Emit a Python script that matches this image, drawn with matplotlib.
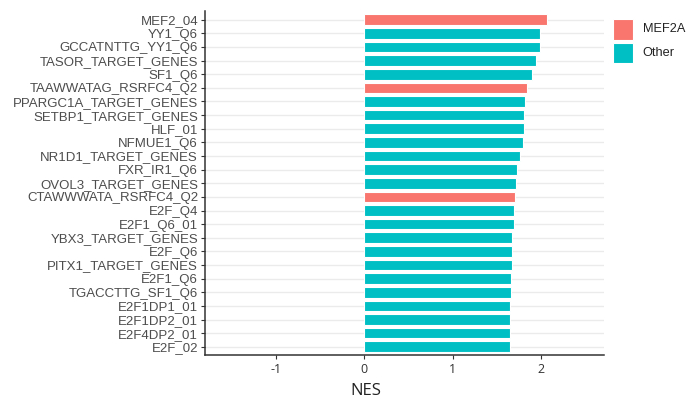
import numpy as np
import matplotlib
matplotlib.use('Agg')
import matplotlib.pyplot as plt
from matplotlib.patches import Rectangle

# gene sets, top to bottom as in the figure
gene_sets = ['MEF2_04', 'YY1_Q6', 'GCCATNTTG_YY1_Q6', 'TASOR_TARGET_GENES', 'SF1_Q6',
             'TAAWWATAG_RSRFC4_Q2', 'PPARGC1A_TARGET_GENES', 'SETBP1_TARGET_GENES', 'HLF_01',
             'NFMUE1_Q6', 'NR1D1_TARGET_GENES', 'FXR_IR1_Q6', 'OVOL3_TARGET_GENES',
             'CTAWWWATA_RSRFC4_Q2', 'E2F_Q4', 'E2F1_Q6_01', 'YBX3_TARGET_GENES', 'E2F_Q6',
             'PITX1_TARGET_GENES', 'E2F1_Q6', 'TGACCTTG_SF1_Q6', 'E2F1DP1_01', 'E2F1DP2_01',
             'E2F4DP2_01', 'E2F_02']
nes = [2.06, 1.99, 1.985, 1.94, 1.90,
       1.835, 1.82, 1.80, 1.80,
       1.79, 1.76, 1.73, 1.71,
       1.70, 1.695, 1.695, 1.675, 1.67,
       1.665, 1.66, 1.655, 1.646, 1.646,
       1.646, 1.645]
group = ['MEF2A', 'Other', 'Other', 'Other', 'Other',
         'MEF2A', 'Other', 'Other', 'Other',
         'Other', 'Other', 'Other', 'Other',
         'MEF2A', 'Other', 'Other', 'Other', 'Other',
         'Other', 'Other', 'Other', 'Other', 'Other',
         'Other', 'Other']
legend_groups = ['MEF2A', 'Other']
x_ticks = [-1, 0, 1, 2]

palette = {'MEF2A': '#F8766D', 'Other': '#00BFC4'}

W, H = 686, 399
fig = plt.figure(figsize=(W / 100, H / 100), dpi=100)
ax = fig.add_axes([0.2988, 0.1103, 0.5817, 0.8609])

n = len(gene_sets)
ypos = np.arange(n)[::-1]
colors = [palette[g] for g in group]

for y in ypos:
    ax.axhline(y, color='#EBEBEB', lw=1.0, zorder=0)

ax.barh(ypos, nes, height=0.78, color=colors, edgecolor='white', linewidth=0.8, zorder=2)

ax.set_xlim(-1.8, 2.71)
ax.set_ylim(-0.6, n - 1 + 0.6)
ax.set_yticks(ypos)
ax.set_yticklabels(gene_sets, fontfamily='Liberation Sans', fontsize=9.5, color='#4D4D4D')
ax.set_xticks(x_ticks)
ax.set_xticklabels([str(t) for t in x_ticks], fontfamily='Open Sans', fontsize=9, color='#333333')
ax.tick_params(axis='y', length=3, width=0.8, color='#333333', pad=2)
ax.tick_params(axis='x', length=3, width=0.8, color='#333333', pad=3)

for side in ['top', 'right']:
    ax.spines[side].set_visible(False)
for side in ['left', 'bottom']:
    ax.spines[side].set_color('#333333')
    ax.spines[side].set_linewidth(1.1)

fig.text(366 / W, 1 - 391 / H, 'NES', ha='center', va='center',
         fontfamily='Open Sans', fontsize=12, color='#222222')

# legend drawn by hand so the key squares match the ggplot size
key_x, key_top, key_size, key_step = 612.7, 19.3, 20.3, 23.4
for i, g in enumerate(legend_groups):
    top = key_top + i * key_step
    fig.patches.append(Rectangle((key_x / W, 1 - (top + key_size) / H), key_size / W, key_size / H,
                                 transform=fig.transFigure, facecolor=palette[g],
                                 edgecolor='white', linewidth=0.8))
    fig.text(642.5 / W, 1 - (top + key_size / 2) / H, g, ha='left', va='center',
             fontfamily='Liberation Sans', fontsize=9.2, color='#222222')

fig.savefig('out.png', dpi=100)
